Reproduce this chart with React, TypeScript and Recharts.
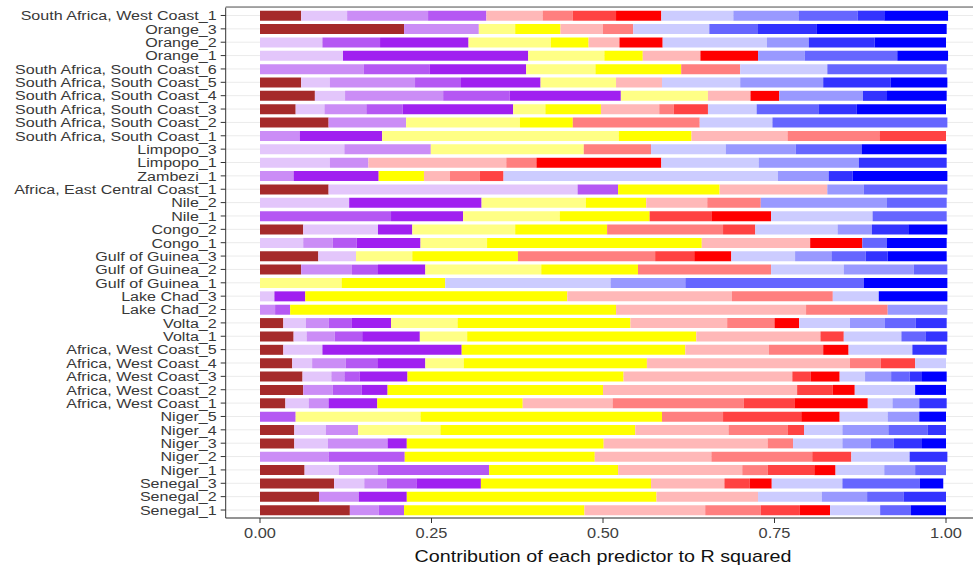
import React from "react";
import { BarChart, Bar, XAxis, YAxis, CartesianGrid } from "recharts";

const categories = [
  "South Africa, West Coast_1", "Orange_3", "Orange_2", "Orange_1",
  "South Africa, South Coast_6", "South Africa, South Coast_5", "South Africa, South Coast_4",
  "South Africa, South Coast_3", "South Africa, South Coast_2", "South Africa, South Coast_1",
  "Limpopo_3", "Limpopo_1", "Zambezi_1", "Africa, East Central Coast_1", "Nile_2", "Nile_1",
  "Congo_2", "Congo_1", "Gulf of Guinea_3", "Gulf of Guinea_2", "Gulf of Guinea_1",
  "Lake Chad_3", "Lake Chad_2", "Volta_2", "Volta_1", "Africa, West Coast_5",
  "Africa, West Coast_4", "Africa, West Coast_3", "Africa, West Coast_2", "Africa, West Coast_1",
  "Niger_5", "Niger_4", "Niger_3", "Niger_2", "Niger_1", "Senegal_3", "Senegal_2", "Senegal_1",
];

const brown = [.060,.210,0,0,0,.060,.080,.052,.100,0, 0,0,0,.100,0,0,.063,0,.085,.060, 0,0,0,.034,.049,.034,.047,.062,.063,.037, 0,.050,.050,0,.065,.108,.086,.131];
const purple1 = [.067,0,.091,.121,0,.042,.044,.042,0,0, .123,.102,0,.363,.130,0,.109,.063,.055,0, 0,.021,0,.033,.019,.057,.029,.042,0,.034, 0,.046,.049,0,.050,.044,0,0];
const purple2 = [.118,.109,0,0,.151,.124,.143,.061,.113,.058, .126,.056,.049,0,0,0,0,.043,0,.074, 0,0,.022,.033,.041,0,.049,.019,.043,.029, 0,.047,.087,.100,.057,.033,.058,.042];
const purple3 = [.085,0,.084,0,.096,.067,.097,.053,0,0, 0,0,0,.059,0,.191,0,.035,0,.038, 0,0,.022,.034,.040,0,.046,.022,.042,0, .052,0,0,.111,.162,.043,0,.037];
const purple4 = [0,0,.129,.270,.141,.116,.162,.161,0,.120, 0,0,.124,0,.193,.105,.050,.093,0,.069, 0,.045,0,.057,.084,.203,.070,.070,.038,.071, 0,0,.028,0,0,.094,.070,0];
const yellow1 = [0,.053,.120,.111,.101,.110,.127,.047,.166,.345, .223,0,0,0,.152,.141,.150,.097,.082,.169, .119,0,0,.097,.069,0,.056,0,0,0, .182,.120,0,0,0,0,0,0];
const yellow2 = [0,.066,.055,.056,.125,0,0,.081,.077,.106, 0,0,.066,.148,.088,.131,.134,.313,.154,.141, .151,.382,.475,.252,.334,.326,.267,.315,.314,.212, .352,.284,.287,.277,.188,.248,.364,.263];
const red1 = [.082,.062,.045,.084,0,.067,.062,.085,0,.140, 0,.201,.038,.157,.089,0,0,.158,0,0, 0,.240,.277,.141,.181,.122,.296,.246,.283,.131, 0,.136,.239,.170,.181,.107,.148,.176];
const red2 = [.044,.044,0,0,.086,0,0,.021,.185,.134, .098,.044,.043,0,.078,0,.169,0,.200,.194, 0,.147,.119,.069,0,.079,.045,0,0,.191, .089,.086,.037,.147,.037,0,0,.081];
const red3 = [.063,0,0,0,0,0,0,.050,0,.097, 0,0,.035,0,0,.090,.047,0,.057,0, 0,0,0,0,.034,0,.050,.027,.052,.074, .114,.024,0,.057,.068,.037,0,.057];
const red4 = [.066,0,.063,.084,0,0,.042,0,0,0, 0,.182,0,0,0,.087,0,.076,.054,0, 0,0,0,.036,0,.037,0,.042,.032,.107, .056,0,0,0,.031,.032,0,.044];
const blue1 = [.105,.111,.152,0,.127,.114,0,.071,.106,0, .109,.142,.400,0,0,.148,.120,0,.093,.106, .241,.067,0,.074,.084,.093,.045,.037,.088,.036, .070,.056,.072,.085,.071,.103,.093,.073];
const blue2 = [.095,0,.061,.068,0,.121,.122,0,0,0, .102,.146,.074,.053,.184,0,.050,0,.053,.102, .109,0,.087,.051,0,0,0,.038,0,.039, .046,.067,.041,0,.045,0,.066,0];
const blue3 = [.086,.070,0,.135,.174,0,0,.090,.255,0, .096,0,0,.122,.087,.108,0,.036,.050,.049, .260,0,0,.045,.035,0,0,.027,0,0, 0,.057,.034,0,.045,.113,.053,.045];
const blue4 = [.039,.086,.096,0,0,.098,.035,.056,0,0, 0,.128,.035,0,0,0,.053,0,.032,0, 0,0,0,.045,.032,.050,0,.018,0,.040, 0,.027,.041,.055,0,0,.062,0];
const blue5 = [.093,.190,.104,.074,0,.083,.087,.130,0,0, .124,0,.138,0,0,0,.057,.087,.086,0, .122,.100,0,0,0,0,0,.036,.045,0, .039,0,.035,0,0,.034,0,.051];

const xTicks = [0, 0.25, 0.5, 0.75, 1];

const seriesKeys = ["brown","p1","p2","p3","p4","y1","y2","r1","r2","r3","r4","b1","b2","b3","b4","b5"];
const seriesValues = [brown,purple1,purple2,purple3,purple4,yellow1,yellow2,red1,red2,red3,red4,blue1,blue2,blue3,blue4,blue5];
const seriesColors = [
  "#A52A2A",
  "#E3C6FB", "#CB8DF6", "#B558F3", "#A020F0",
  "#FFFF85", "#FFFF00",
  "#FFB8B8", "#FF7F7F", "#FF4242", "#FF0000",
  "#CCCCFF", "#9999FF", "#6666FF", "#3333FF", "#0000FF",
];

const data = categories.map((name, i) => {
  const row: Record<string, any> = { name };
  seriesKeys.forEach((k, j) => { row[k] = seriesValues[j][i]; });
  return row;
});

const FONT = "'Liberation Sans', Arial, Helvetica, sans-serif";

const YTick = (props: any) => {
  const { x, y, payload } = props;
  return (
    <g transform={`translate(${x},${y})`}>
      <text transform="scale(1.19,1)" x={0} y={0} dy={4.8} textAnchor="end" fontSize={13.5} fill="#383838" fontFamily={FONT}>
        {payload.value}
      </text>
    </g>
  );
};

const XTick = (props: any) => {
  const { x, y, payload } = props;
  return (
    <g transform={`translate(${x},${y})`}>
      <text transform="scale(1.17,1)" x={0} y={0} dy={12.5} textAnchor="middle" fontSize={14} fill="#404040" fontFamily={FONT}>
        {Number(payload.value).toFixed(2)}
      </text>
    </g>
  );
};

export default function App() {
  return (
    <div style={{ position: "absolute", left: 0, top: 0, width: 973, height: 566, overflow: "hidden", background: "#fff" }}>
      <BarChart
        width={990}
        height={566}
        data={data}
        layout="vertical"
        margin={{ top: 7.5, right: 9.7, bottom: 0, left: 0 }}
        barCategoryGap="14%"
      >
        <CartesianGrid horizontal={true} vertical={false} stroke="#ebebeb" />
        <XAxis
          type="number"
          domain={[-0.05, 1.05]}
          ticks={xTicks}
          allowDataOverflow={true}
          interval={0}
          height={48}
          tick={<XTick />}
          tickSize={5}
          tickMargin={2}
          axisLine={{ stroke: "#333333" }}
          tickLine={{ stroke: "#333333" }}
        />
        <YAxis
          type="category"
          dataKey="name"
          width={225.7}
          interval={0}
          tick={<YTick />}
          tickSize={5}
          tickMargin={4}
          padding={{ top: 1.3, bottom: 1.3 }}
          axisLine={{ stroke: "#333333" }}
          tickLine={{ stroke: "#333333" }}
        />
        {seriesKeys.map((k, j) => (
          <Bar key={k} dataKey={k} stackId="a" fill={seriesColors[j]} isAnimationActive={false} />
        ))}
      </BarChart>
      <svg width={973} height={566} style={{ position: "absolute", left: 0, top: 0, pointerEvents: "none" }}>
        <line x1={225.7} x2={973} y1={7} y2={7} stroke="#555555" strokeWidth={1} />
        <g transform="translate(603,561.5)">
          <text transform="scale(1.16,1)" textAnchor="middle" fontSize={17} fill="#111111" fontFamily={FONT}>
            Contribution of each predictor to R squared
          </text>
        </g>
      </svg>
    </div>
  );
}
